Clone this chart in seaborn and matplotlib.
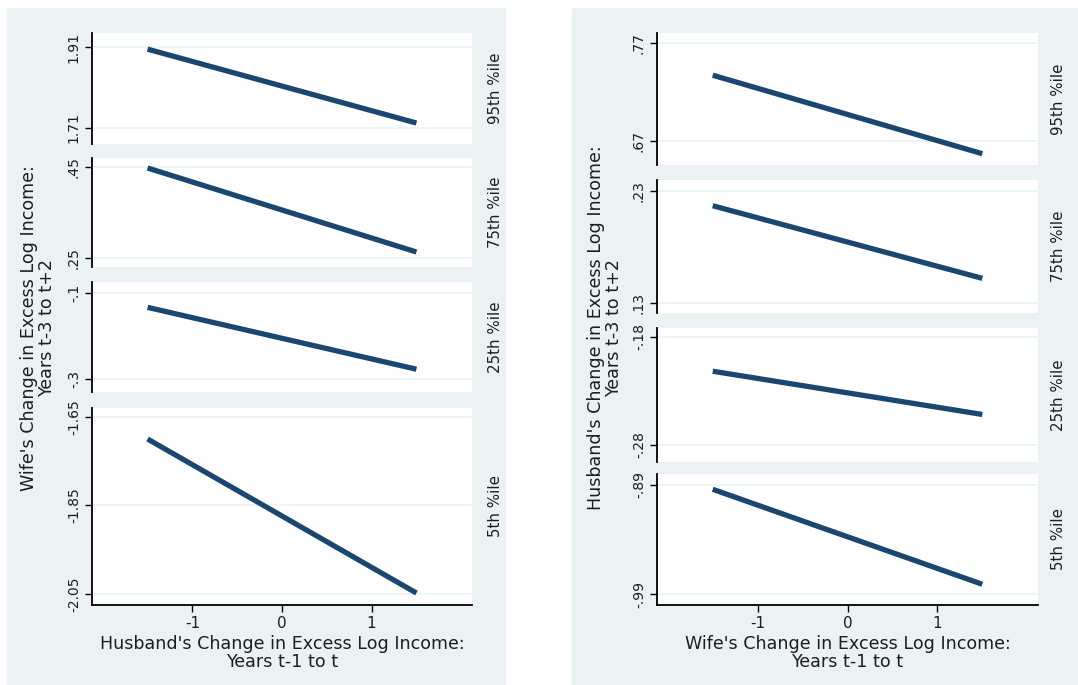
import matplotlib
matplotlib.use("Agg")
import matplotlib.pyplot as plt
from matplotlib.patches import Rectangle
import pandas as pd
import seaborn as sns

sns.set_theme(style="white")
plt.rcParams["font.family"] = ["DejaVu Sans"]

# x span of the fitted quantile lines
x_ends = [-1.5, 1.5]

# wife's outcome vs husband's change (left block), by quantile
left_q95 = [1.905, 1.722]
left_q75 = [0.448, 0.263]
left_q25 = [-0.133, -0.277]
left_q05 = [-1.700, -2.048]

# husband's outcome vs wife's change (right block), by quantile
right_q95 = [0.737, 0.657]
right_q75 = [0.217, 0.152]
right_q25 = [-0.212, -0.252]
right_q05 = [-0.894, -0.981]

row_labels = ["95th %ile", "75th %ile", "25th %ile", "5th %ile"]

left_ticks = [[1.71, 1.91], [0.25, 0.45], [-0.3, -0.1], [-2.05, -1.85, -1.65]]
left_ticklabels = [["1.71", "1.91"], [".25", ".45"], ["-.3", "-.1"], ["-2.05", "-1.85", "-1.65"]]
right_ticks = [[0.67, 0.77], [0.13, 0.23], [-0.28, -0.18], [-0.99, -0.89]]
right_ticklabels = [[".67", ".77"], [".13", ".23"], ["-.28", "-.18"], ["-.99", "-.89"]]

x_ticks = [-1, 0, 1]
x_ticklabels = ["-1", "0", "1"]

left_ylim = [(1.67, 1.945), (0.23, 0.47), (-0.33, -0.074), (-2.075, -1.63)]
right_ylim = [(0.6455, 0.78), (0.121, 0.24), (-0.296, -0.172), (-1.0, -0.88)]

W, H = 1078, 685
NAVY = "#1a476f"
BG = "#eaf2f3"
TXT = "#1e1e1e"

fig = plt.figure(figsize=(W / 100, H / 100), dpi=100)
fig.patch.set_facecolor("white")

# graph-region backgrounds
for x0, x1 in [(7, 505), (572, 1078)]:
    fig.patches.append(Rectangle((x0 / W, 0), (x1 - x0) / W, 1 - 8 / H,
                                 transform=fig.transFigure, color=BG, zorder=-10))


def px_axes(x0, x1, y0, y1):
    return fig.add_axes([x0 / W, 1 - y1 / H, (x1 - x0) / W, (y1 - y0) / H])


def draw_block(xpix, rows, series, ticks, ticklabels, ylims, xlabel, ylabel, ylabel_x, strip_off):
    for i, ((y0, y1), yv, tk, tl, yl, lab) in enumerate(
            zip(rows, series, ticks, ticklabels, ylims, row_labels)):
        ax = px_axes(xpix[0], xpix[1], y0, y1)
        ax.set_facecolor("white")
        for t in tk:
            ax.axhline(t, color=BG, lw=1.2, zorder=0)
        df = pd.DataFrame({"x": x_ends, "y": yv})
        sns.lineplot(data=df, x="x", y="y", ax=ax, color=NAVY, lw=3.8,
                     solid_capstyle="butt")
        ax.set_xlim(-2.12, 2.12)
        ax.set_ylim(*yl)
        ax.set_yticks(tk)
        ax.set_yticklabels(tl, rotation=90, va="center", fontsize=10, color=TXT)
        ax.tick_params(axis="y", length=5, width=1, color="black", pad=3, left=True)
        for s in ["top", "right"]:
            ax.spines[s].set_visible(False)
        ax.spines["left"].set_color("black")
        ax.spines["left"].set_linewidth(1.3)
        ax.set_ylabel("")
        ax.set_xlabel("")
        last = i == len(rows) - 1
        if last:
            ax.spines["bottom"].set_color("black")
            ax.spines["bottom"].set_linewidth(1.3)
            ax.set_xticks(x_ticks)
            ax.set_xticklabels(x_ticklabels, fontsize=11, color=TXT)
            ax.tick_params(axis="x", length=5, width=1, color="black", pad=3, bottom=True)
            ax.set_xlabel(xlabel, fontsize=12.6, color=TXT, labelpad=3, linespacing=1.0)
        else:
            ax.spines["bottom"].set_visible(False)
            ax.set_xticks([])
        ax.annotate(lab, xy=(1, 0.5), xycoords="axes fraction", xytext=(strip_off, 0),
                    textcoords="offset points", ha="center", va="center",
                    rotation=90, fontsize=10.8, color=TXT)
    fig.text(ylabel_x / W, 1 - 328 / H, ylabel, rotation=90, ha="center", va="center",
             fontsize=12.6, color=TXT, multialignment="center", linespacing=1.0)


draw_block((92, 472), [(33, 144), (158, 267), (282, 392), (408, 605)],
           [left_q95, left_q75, left_q25, left_q05], left_ticks, left_ticklabels, left_ylim,
           "Husband's Change in Excess Log Income:\nYears t-1 to t",
           "Wife's Change in Excess Log Income:\nYears t-3 to t+2", 38, 17)

draw_block((657, 1038), [(33, 165), (180, 313), (328, 462), (474, 605)],
           [right_q95, right_q75, right_q25, right_q05], right_ticks, right_ticklabels, right_ylim,
           "Wife's Change in Excess Log Income:\nYears t-1 to t",
           "Husband's Change in Excess Log Income:\nYears t-3 to t+2", 605, 15)

fig.savefig("out.png", dpi=100, facecolor="white")
